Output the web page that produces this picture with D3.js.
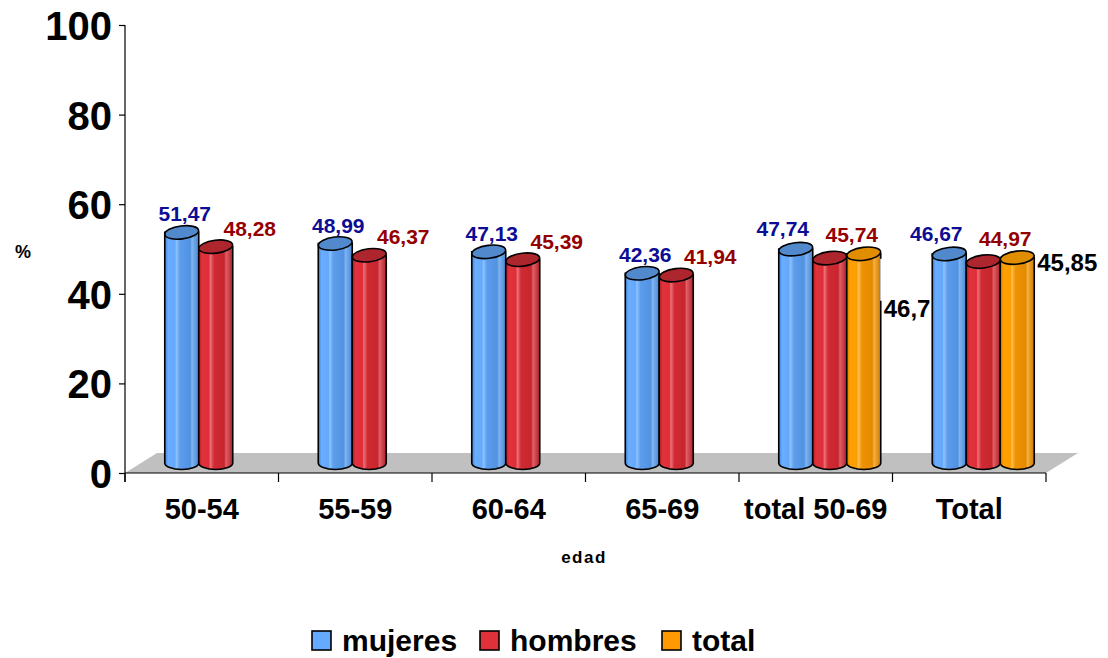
<!DOCTYPE html>
<html>
<head>
<meta charset="utf-8">
<script src="https://cdn.jsdelivr.net/npm/d3@7"></script>
<style>
  html, body { margin: 0; padding: 0; background: #fff; }
  svg { display: block; font-family: Arial, "Liberation Sans", sans-serif; font-weight: bold; }
</style>
</head>
<body>
<svg id="chart" width="1108" height="658"></svg>
<script>
// Age groups and percentages (comma is the decimal separator in labels)
const categories = ["50-54", "55-59", "60-64", "65-69", "total 50-69", "Total"];
const mujeres = [51.47, 48.99, 47.13, 42.36, 47.74, 46.67];
const hombres = [48.28, 46.37, 45.39, 41.94, 45.74, 44.97];
const total   = [null, null, null, null, 46.7, 45.85];
const yTicks  = [0, 20, 40, 60, 80, 100];
const seriesNames = ["mujeres", "hombres", "total"];

const svg = d3.select("#chart");

const x = d3.scaleBand().domain(categories).range([125, 1046]).paddingInner(0);
const y = d3.scaleLinear().domain([0, 100]).range([473, 25]);

// pseudo-3D depth: the floor runs back by (32, -20); bars sit halfway in
const floorDx = 32, floorDy = -20;
const barDx = 14, barDy = -10;
const slot = 34, r = 17, ry = 6.5;

const palette = {
  mujeres: { stops: ["#3f7fd0", "#6aaeff", "#66a8fb", "#8cc2ff", "#5c9cec", "#5293e0", "#7fb4f2", "#4a86d2"], top: "#5289cc", label: "#0c0c94" },
  hombres: { stops: ["#b81e26", "#e2323c", "#de2f39", "#ee7078", "#d02a33", "#c7262f", "#e06068", "#b02028"], top: "#ad252d", label: "#940000" },
  total:   { stops: ["#d88200", "#ffa000", "#fd9d00", "#ffc050", "#ee9200", "#e38a00", "#f7b040", "#cc7a00"], top: "#e08e00", label: "#000000" }
};

// horizontal gradients giving each cylinder its rounded shading
const defs = svg.append("defs");
seriesNames.forEach(name => {
  const g = defs.append("linearGradient").attr("id", "grad-" + name)
    .attr("x1", "0%").attr("x2", "100%").attr("y1", "0%").attr("y2", "0%");
  const offs = [0, 0.1, 0.3, 0.34, 0.45, 0.75, 0.8, 1];
  palette[name].stops.forEach((c, i) => g.append("stop").attr("offset", offs[i]).attr("stop-color", c));
});

// grey floor
const x0 = x.range()[0], x1 = x.range()[1], yb = y(0);
svg.append("path")
  .attr("d", `M${x0},${yb} L${x1},${yb} L${x1 + floorDx},${yb + floorDy} L${x0 + floorDx},${yb + floorDy} Z`)
  .attr("fill", "#c0c0c0");

// y axis
const yAxis = d3.axisLeft(y).tickValues(yTicks).tickSize(6).tickPadding(7).tickFormat(d3.format("d"));
const ya = svg.append("g").attr("transform", `translate(${x0},0)`).call(yAxis);
ya.select(".domain").remove();
ya.selectAll("line").attr("stroke", "#000").attr("stroke-width", 1.2);
ya.selectAll("text").attr("font-size", 40).attr("font-weight", "bold").attr("fill", "#000")
  .attr("font-family", "Arial, 'Liberation Sans', sans-serif").attr("dy", "0.36em");
svg.append("line").attr("x1", x0).attr("x2", x0).attr("y1", y(100)).attr("y2", yb + 9)
  .attr("stroke", "#000").attr("stroke-width", 1.2);

// x axis: baseline, boundary ticks and category labels
svg.append("line").attr("x1", x0).attr("x2", x1).attr("y1", yb).attr("y2", yb)
  .attr("stroke", "#000").attr("stroke-width", 1.2);
const bounds = categories.map(c => x(c) + x.bandwidth()).concat([x0]);
svg.selectAll(".xtick").data(bounds).enter().append("line")
  .attr("x1", d => d).attr("x2", d => d).attr("y1", yb).attr("y2", yb + 9)
  .attr("stroke", "#000").attr("stroke-width", 1.2);
const xAxis = d3.axisBottom(x).tickSize(0).tickPadding(0);
const xa = svg.append("g").attr("transform", `translate(0,${yb})`).call(xAxis);
xa.select(".domain").remove();
xa.selectAll("text").attr("font-size", 29).attr("font-weight", "bold").attr("fill", "#000")
  .attr("font-family", "Arial, 'Liberation Sans', sans-serif").attr("dy", "1.6em");

// axis titles
svg.append("text").attr("x", 23).attr("y", 258).attr("text-anchor", "middle")
  .attr("font-size", 18).text("%");
svg.append("text").attr("x", 584).attr("y", 563).attr("text-anchor", "middle")
  .attr("font-size", 17).attr("letter-spacing", 1.5).text("edad");

// cylinders
const fmt = v => String(v).replace(".", ",");
const series = [
  { name: "mujeres", values: mujeres },
  { name: "hombres", values: hombres },
  { name: "total", values: total }
];

const barBaseY = () => y(0) + barDy;
const barTopY = v => y(v) + barDy;
const barCx = (cat, si) => x(cat) + x.bandwidth() / 2 + barDx + (si - 1) * slot;

series.forEach((s, si) => {
  categories.forEach((cat, ci) => {
    const v = s.values[ci];
    if (v == null) return;
    const cx = barCx(cat, si), top = barTopY(v), base = barBaseY();
    const g = svg.append("g").attr("class", "bar " + s.name);
    g.append("path")
      .attr("d", `M${cx - r},${top} L${cx - r},${base} A${r},${ry} 0 0 0 ${cx + r},${base} L${cx + r},${top} Z`)
      .attr("fill", `url(#grad-${s.name})`)
      .attr("stroke", "#000").attr("stroke-width", 1.6);
    g.append("ellipse")
      .attr("cx", cx).attr("cy", top).attr("rx", r).attr("ry", ry)
      .attr("transform", `rotate(-7 ${cx} ${top})`)
      .attr("fill", palette[s.name].top)
      .attr("stroke", "#000").attr("stroke-width", 1.6);
  });
});

// value labels
series.forEach((s, si) => {
  categories.forEach((cat, ci) => {
    const v = s.values[ci];
    if (v == null) return;
    const cx = barCx(cat, si), top = barTopY(v);
    const threeBars = total[ci] != null;
    let lx, ly, anchor = "middle", size = 21;
    if (s.name === "mujeres") { lx = cx + (threeBars ? -13 : 3); ly = top - (threeBars ? 13 : 11); }
    else if (s.name === "hombres") { lx = cx + (threeBars ? 22 : 34); ly = top - (threeBars ? 16 : 11); }
    else {
      anchor = "start"; size = 24; lx = cx + r + 3;
      ly = cat === "total 50-69" ? top + 63 : top + 13;
    }
    if (s.name === "total" && cat === "total 50-69") {
      // this label carries an opaque white box that clips the bar edge
      svg.append("rect").attr("x", cx + r - 0.5).attr("y", top + 5).attr("width", 50).attr("height", 42)
        .attr("fill", "#fff");
    }
    svg.append("text")
      .attr("x", lx).attr("y", ly).attr("text-anchor", anchor)
      .attr("font-size", size).attr("fill", palette[s.name].label)
      .text(fmt(v));
  });
});

// legend
const legendItems = [
  { name: "mujeres", x: 312, fill: "#66aaff" },
  { name: "hombres", x: 480, fill: "#e0303a" },
  { name: "total", x: 662, fill: "#ff9900" }
];
const lg = svg.append("g").attr("class", "legend");
legendItems.forEach(d => {
  lg.append("rect").attr("x", d.x).attr("y", 631).attr("width", 19).attr("height", 19)
    .attr("fill", d.fill).attr("stroke", "#000").attr("stroke-width", 1.6);
  lg.append("text").attr("x", d.x + 30).attr("y", 651).attr("font-size", 30).attr("fill", "#000").text(d.name);
});
</script>
</body>
</html>
